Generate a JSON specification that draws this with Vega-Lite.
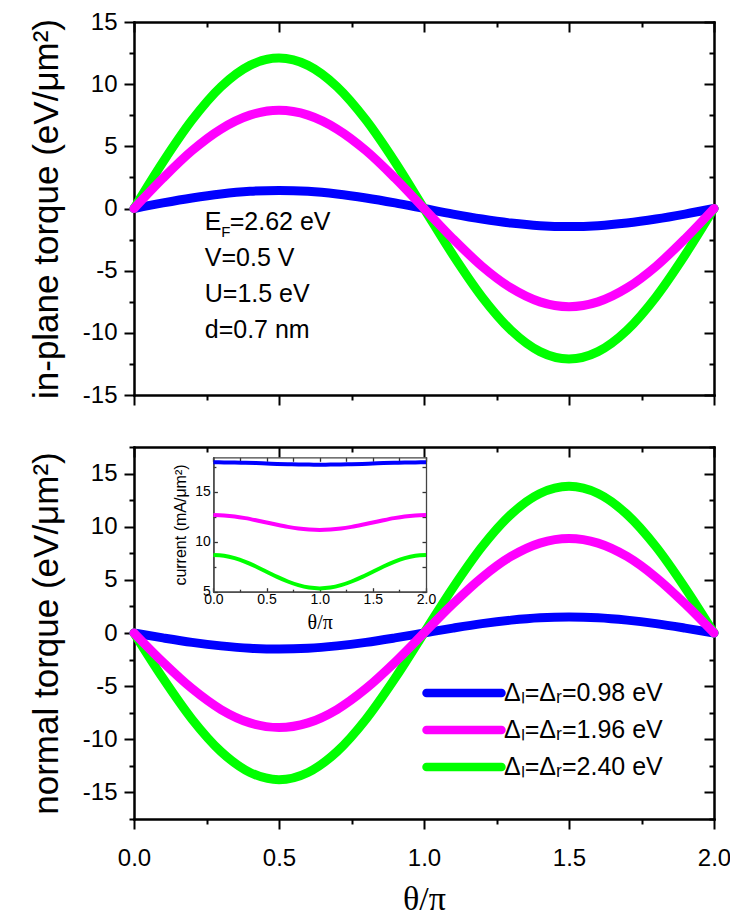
{
"$schema": "https://vega.github.io/schema/vega-lite/v6.json",
"padding": {"left": 29, "top": 10, "right": 5, "bottom": 0},
"spacing": 52,
"bounds": "flush",
"config": {
  "font": "Liberation Sans",
  "view": {"stroke": null},
  "locale": {"number": {"decimal": ".", "thousands": ",", "grouping": [3], "currency": ["$", ""], "minus": "-"}},
  "axis": {"grid": false, "domainColor": "black", "domainWidth": 2, "domainCap": "square", "tickColor": "black", "tickWidth": 2, "labelColor": "black", "labelFontSize": 24, "labelFont": "Liberation Sans", "labelFlush": false, "labelOverlap": false, "labelBound": false, "titleColor": "black", "titleFontWeight": "normal"}
},
"datasets": {
"inplane": [
{"t":0,"v":0,"s":"Δₗ=Δᵣ=0.98 eV"},{"t":0.1,"v":0.45,"s":"Δₗ=Δᵣ=0.98 eV"},{"t":0.2,"v":0.85,"s":"Δₗ=Δᵣ=0.98 eV"},{"t":0.3,"v":1.17,"s":"Δₗ=Δᵣ=0.98 eV"},{"t":0.4,"v":1.38,"s":"Δₗ=Δᵣ=0.98 eV"},{"t":0.5,"v":1.45,"s":"Δₗ=Δᵣ=0.98 eV"},{"t":0.6,"v":1.38,"s":"Δₗ=Δᵣ=0.98 eV"},{"t":0.7,"v":1.17,"s":"Δₗ=Δᵣ=0.98 eV"},{"t":0.8,"v":0.85,"s":"Δₗ=Δᵣ=0.98 eV"},{"t":0.9,"v":0.45,"s":"Δₗ=Δᵣ=0.98 eV"},{"t":1.0,"v":0,"s":"Δₗ=Δᵣ=0.98 eV"},{"t":1.1,"v":-0.45,"s":"Δₗ=Δᵣ=0.98 eV"},{"t":1.2,"v":-0.85,"s":"Δₗ=Δᵣ=0.98 eV"},{"t":1.3,"v":-1.17,"s":"Δₗ=Δᵣ=0.98 eV"},{"t":1.4,"v":-1.38,"s":"Δₗ=Δᵣ=0.98 eV"},{"t":1.5,"v":-1.45,"s":"Δₗ=Δᵣ=0.98 eV"},{"t":1.6,"v":-1.38,"s":"Δₗ=Δᵣ=0.98 eV"},{"t":1.7,"v":-1.17,"s":"Δₗ=Δᵣ=0.98 eV"},{"t":1.8,"v":-0.85,"s":"Δₗ=Δᵣ=0.98 eV"},{"t":1.9,"v":-0.45,"s":"Δₗ=Δᵣ=0.98 eV"},{"t":2.0,"v":0,"s":"Δₗ=Δᵣ=0.98 eV"},
{"t":0,"v":0,"s":"Δₗ=Δᵣ=2.40 eV"},{"t":0.1,"v":3.74,"s":"Δₗ=Δᵣ=2.40 eV"},{"t":0.2,"v":7.11,"s":"Δₗ=Δᵣ=2.40 eV"},{"t":0.3,"v":9.79,"s":"Δₗ=Δᵣ=2.40 eV"},{"t":0.4,"v":11.51,"s":"Δₗ=Δᵣ=2.40 eV"},{"t":0.5,"v":12.1,"s":"Δₗ=Δᵣ=2.40 eV"},{"t":0.6,"v":11.51,"s":"Δₗ=Δᵣ=2.40 eV"},{"t":0.7,"v":9.79,"s":"Δₗ=Δᵣ=2.40 eV"},{"t":0.8,"v":7.11,"s":"Δₗ=Δᵣ=2.40 eV"},{"t":0.9,"v":3.74,"s":"Δₗ=Δᵣ=2.40 eV"},{"t":1.0,"v":0,"s":"Δₗ=Δᵣ=2.40 eV"},{"t":1.1,"v":-3.74,"s":"Δₗ=Δᵣ=2.40 eV"},{"t":1.2,"v":-7.11,"s":"Δₗ=Δᵣ=2.40 eV"},{"t":1.3,"v":-9.79,"s":"Δₗ=Δᵣ=2.40 eV"},{"t":1.4,"v":-11.51,"s":"Δₗ=Δᵣ=2.40 eV"},{"t":1.5,"v":-12.1,"s":"Δₗ=Δᵣ=2.40 eV"},{"t":1.6,"v":-11.51,"s":"Δₗ=Δᵣ=2.40 eV"},{"t":1.7,"v":-9.79,"s":"Δₗ=Δᵣ=2.40 eV"},{"t":1.8,"v":-7.11,"s":"Δₗ=Δᵣ=2.40 eV"},{"t":1.9,"v":-3.74,"s":"Δₗ=Δᵣ=2.40 eV"},{"t":2.0,"v":0,"s":"Δₗ=Δᵣ=2.40 eV"},
{"t":0,"v":0,"s":"Δₗ=Δᵣ=1.96 eV"},{"t":0.1,"v":2.44,"s":"Δₗ=Δᵣ=1.96 eV"},{"t":0.2,"v":4.65,"s":"Δₗ=Δᵣ=1.96 eV"},{"t":0.3,"v":6.39,"s":"Δₗ=Δᵣ=1.96 eV"},{"t":0.4,"v":7.51,"s":"Δₗ=Δᵣ=1.96 eV"},{"t":0.5,"v":7.9,"s":"Δₗ=Δᵣ=1.96 eV"},{"t":0.6,"v":7.51,"s":"Δₗ=Δᵣ=1.96 eV"},{"t":0.7,"v":6.39,"s":"Δₗ=Δᵣ=1.96 eV"},{"t":0.8,"v":4.65,"s":"Δₗ=Δᵣ=1.96 eV"},{"t":0.9,"v":2.44,"s":"Δₗ=Δᵣ=1.96 eV"},{"t":1.0,"v":0,"s":"Δₗ=Δᵣ=1.96 eV"},{"t":1.1,"v":-2.44,"s":"Δₗ=Δᵣ=1.96 eV"},{"t":1.2,"v":-4.65,"s":"Δₗ=Δᵣ=1.96 eV"},{"t":1.3,"v":-6.39,"s":"Δₗ=Δᵣ=1.96 eV"},{"t":1.4,"v":-7.51,"s":"Δₗ=Δᵣ=1.96 eV"},{"t":1.5,"v":-7.9,"s":"Δₗ=Δᵣ=1.96 eV"},{"t":1.6,"v":-7.51,"s":"Δₗ=Δᵣ=1.96 eV"},{"t":1.7,"v":-6.39,"s":"Δₗ=Δᵣ=1.96 eV"},{"t":1.8,"v":-4.65,"s":"Δₗ=Δᵣ=1.96 eV"},{"t":1.9,"v":-2.44,"s":"Δₗ=Δᵣ=1.96 eV"},{"t":2.0,"v":0,"s":"Δₗ=Δᵣ=1.96 eV"}
],
"normal": [
{"t":0,"v":0,"s":"Δₗ=Δᵣ=0.98 eV"},{"t":0.1,"v":-0.46,"s":"Δₗ=Δᵣ=0.98 eV"},{"t":0.2,"v":-0.88,"s":"Δₗ=Δᵣ=0.98 eV"},{"t":0.3,"v":-1.21,"s":"Δₗ=Δᵣ=0.98 eV"},{"t":0.4,"v":-1.43,"s":"Δₗ=Δᵣ=0.98 eV"},{"t":0.5,"v":-1.5,"s":"Δₗ=Δᵣ=0.98 eV"},{"t":0.6,"v":-1.43,"s":"Δₗ=Δᵣ=0.98 eV"},{"t":0.7,"v":-1.21,"s":"Δₗ=Δᵣ=0.98 eV"},{"t":0.8,"v":-0.88,"s":"Δₗ=Δᵣ=0.98 eV"},{"t":0.9,"v":-0.46,"s":"Δₗ=Δᵣ=0.98 eV"},{"t":1.0,"v":0,"s":"Δₗ=Δᵣ=0.98 eV"},{"t":1.1,"v":0.46,"s":"Δₗ=Δᵣ=0.98 eV"},{"t":1.2,"v":0.88,"s":"Δₗ=Δᵣ=0.98 eV"},{"t":1.3,"v":1.21,"s":"Δₗ=Δᵣ=0.98 eV"},{"t":1.4,"v":1.43,"s":"Δₗ=Δᵣ=0.98 eV"},{"t":1.5,"v":1.5,"s":"Δₗ=Δᵣ=0.98 eV"},{"t":1.6,"v":1.43,"s":"Δₗ=Δᵣ=0.98 eV"},{"t":1.7,"v":1.21,"s":"Δₗ=Δᵣ=0.98 eV"},{"t":1.8,"v":0.88,"s":"Δₗ=Δᵣ=0.98 eV"},{"t":1.9,"v":0.46,"s":"Δₗ=Δᵣ=0.98 eV"},{"t":2.0,"v":0,"s":"Δₗ=Δᵣ=0.98 eV"},
{"t":0,"v":0,"s":"Δₗ=Δᵣ=2.40 eV"},{"t":0.1,"v":-4.26,"s":"Δₗ=Δᵣ=2.40 eV"},{"t":0.2,"v":-8.11,"s":"Δₗ=Δᵣ=2.40 eV"},{"t":0.3,"v":-11.16,"s":"Δₗ=Δᵣ=2.40 eV"},{"t":0.4,"v":-13.12,"s":"Δₗ=Δᵣ=2.40 eV"},{"t":0.5,"v":-13.8,"s":"Δₗ=Δᵣ=2.40 eV"},{"t":0.6,"v":-13.12,"s":"Δₗ=Δᵣ=2.40 eV"},{"t":0.7,"v":-11.16,"s":"Δₗ=Δᵣ=2.40 eV"},{"t":0.8,"v":-8.11,"s":"Δₗ=Δᵣ=2.40 eV"},{"t":0.9,"v":-4.26,"s":"Δₗ=Δᵣ=2.40 eV"},{"t":1.0,"v":0,"s":"Δₗ=Δᵣ=2.40 eV"},{"t":1.1,"v":4.26,"s":"Δₗ=Δᵣ=2.40 eV"},{"t":1.2,"v":8.11,"s":"Δₗ=Δᵣ=2.40 eV"},{"t":1.3,"v":11.16,"s":"Δₗ=Δᵣ=2.40 eV"},{"t":1.4,"v":13.12,"s":"Δₗ=Δᵣ=2.40 eV"},{"t":1.5,"v":13.8,"s":"Δₗ=Δᵣ=2.40 eV"},{"t":1.6,"v":13.12,"s":"Δₗ=Δᵣ=2.40 eV"},{"t":1.7,"v":11.16,"s":"Δₗ=Δᵣ=2.40 eV"},{"t":1.8,"v":8.11,"s":"Δₗ=Δᵣ=2.40 eV"},{"t":1.9,"v":4.26,"s":"Δₗ=Δᵣ=2.40 eV"},{"t":2.0,"v":0,"s":"Δₗ=Δᵣ=2.40 eV"},
{"t":0,"v":0,"s":"Δₗ=Δᵣ=1.96 eV"},{"t":0.1,"v":-2.75,"s":"Δₗ=Δᵣ=1.96 eV"},{"t":0.2,"v":-5.23,"s":"Δₗ=Δᵣ=1.96 eV"},{"t":0.3,"v":-7.2,"s":"Δₗ=Δᵣ=1.96 eV"},{"t":0.4,"v":-8.46,"s":"Δₗ=Δᵣ=1.96 eV"},{"t":0.5,"v":-8.9,"s":"Δₗ=Δᵣ=1.96 eV"},{"t":0.6,"v":-8.46,"s":"Δₗ=Δᵣ=1.96 eV"},{"t":0.7,"v":-7.2,"s":"Δₗ=Δᵣ=1.96 eV"},{"t":0.8,"v":-5.23,"s":"Δₗ=Δᵣ=1.96 eV"},{"t":0.9,"v":-2.75,"s":"Δₗ=Δᵣ=1.96 eV"},{"t":1.0,"v":0,"s":"Δₗ=Δᵣ=1.96 eV"},{"t":1.1,"v":2.75,"s":"Δₗ=Δᵣ=1.96 eV"},{"t":1.2,"v":5.23,"s":"Δₗ=Δᵣ=1.96 eV"},{"t":1.3,"v":7.2,"s":"Δₗ=Δᵣ=1.96 eV"},{"t":1.4,"v":8.46,"s":"Δₗ=Δᵣ=1.96 eV"},{"t":1.5,"v":8.9,"s":"Δₗ=Δᵣ=1.96 eV"},{"t":1.6,"v":8.46,"s":"Δₗ=Δᵣ=1.96 eV"},{"t":1.7,"v":7.2,"s":"Δₗ=Δᵣ=1.96 eV"},{"t":1.8,"v":5.23,"s":"Δₗ=Δᵣ=1.96 eV"},{"t":1.9,"v":2.75,"s":"Δₗ=Δᵣ=1.96 eV"},{"t":2.0,"v":0,"s":"Δₗ=Δᵣ=1.96 eV"}
],
"current": [
{"t":0,"v":17.94,"s":"Δₗ=Δᵣ=0.98 eV"},{"t":0.1,"v":17.93,"s":"Δₗ=Δᵣ=0.98 eV"},{"t":0.2,"v":17.92,"s":"Δₗ=Δᵣ=0.98 eV"},{"t":0.3,"v":17.89,"s":"Δₗ=Δᵣ=0.98 eV"},{"t":0.4,"v":17.86,"s":"Δₗ=Δᵣ=0.98 eV"},{"t":0.5,"v":17.82,"s":"Δₗ=Δᵣ=0.98 eV"},{"t":0.6,"v":17.78,"s":"Δₗ=Δᵣ=0.98 eV"},{"t":0.7,"v":17.75,"s":"Δₗ=Δᵣ=0.98 eV"},{"t":0.8,"v":17.72,"s":"Δₗ=Δᵣ=0.98 eV"},{"t":0.9,"v":17.71,"s":"Δₗ=Δᵣ=0.98 eV"},{"t":1.0,"v":17.7,"s":"Δₗ=Δᵣ=0.98 eV"},{"t":1.1,"v":17.71,"s":"Δₗ=Δᵣ=0.98 eV"},{"t":1.2,"v":17.72,"s":"Δₗ=Δᵣ=0.98 eV"},{"t":1.3,"v":17.75,"s":"Δₗ=Δᵣ=0.98 eV"},{"t":1.4,"v":17.78,"s":"Δₗ=Δᵣ=0.98 eV"},{"t":1.5,"v":17.82,"s":"Δₗ=Δᵣ=0.98 eV"},{"t":1.6,"v":17.86,"s":"Δₗ=Δᵣ=0.98 eV"},{"t":1.7,"v":17.89,"s":"Δₗ=Δᵣ=0.98 eV"},{"t":1.8,"v":17.92,"s":"Δₗ=Δᵣ=0.98 eV"},{"t":1.9,"v":17.93,"s":"Δₗ=Δᵣ=0.98 eV"},{"t":2.0,"v":17.94,"s":"Δₗ=Δᵣ=0.98 eV"},
{"t":0,"v":8.67,"s":"Δₗ=Δᵣ=2.40 eV"},{"t":0.1,"v":8.59,"s":"Δₗ=Δᵣ=2.40 eV"},{"t":0.2,"v":8.35,"s":"Δₗ=Δᵣ=2.40 eV"},{"t":0.3,"v":7.98,"s":"Δₗ=Δᵣ=2.40 eV"},{"t":0.4,"v":7.52,"s":"Δₗ=Δᵣ=2.40 eV"},{"t":0.5,"v":7.0,"s":"Δₗ=Δᵣ=2.40 eV"},{"t":0.6,"v":6.48,"s":"Δₗ=Δᵣ=2.40 eV"},{"t":0.7,"v":6.02,"s":"Δₗ=Δᵣ=2.40 eV"},{"t":0.8,"v":5.65,"s":"Δₗ=Δᵣ=2.40 eV"},{"t":0.9,"v":5.41,"s":"Δₗ=Δᵣ=2.40 eV"},{"t":1.0,"v":5.33,"s":"Δₗ=Δᵣ=2.40 eV"},{"t":1.1,"v":5.41,"s":"Δₗ=Δᵣ=2.40 eV"},{"t":1.2,"v":5.65,"s":"Δₗ=Δᵣ=2.40 eV"},{"t":1.3,"v":6.02,"s":"Δₗ=Δᵣ=2.40 eV"},{"t":1.4,"v":6.48,"s":"Δₗ=Δᵣ=2.40 eV"},{"t":1.5,"v":7.0,"s":"Δₗ=Δᵣ=2.40 eV"},{"t":1.6,"v":7.52,"s":"Δₗ=Δᵣ=2.40 eV"},{"t":1.7,"v":7.98,"s":"Δₗ=Δᵣ=2.40 eV"},{"t":1.8,"v":8.35,"s":"Δₗ=Δᵣ=2.40 eV"},{"t":1.9,"v":8.59,"s":"Δₗ=Δᵣ=2.40 eV"},{"t":2.0,"v":8.67,"s":"Δₗ=Δᵣ=2.40 eV"},
{"t":0,"v":12.67,"s":"Δₗ=Δᵣ=1.96 eV"},{"t":0.1,"v":12.63,"s":"Δₗ=Δᵣ=1.96 eV"},{"t":0.2,"v":12.53,"s":"Δₗ=Δᵣ=1.96 eV"},{"t":0.3,"v":12.36,"s":"Δₗ=Δᵣ=1.96 eV"},{"t":0.4,"v":12.15,"s":"Δₗ=Δᵣ=1.96 eV"},{"t":0.5,"v":11.92,"s":"Δₗ=Δᵣ=1.96 eV"},{"t":0.6,"v":11.69,"s":"Δₗ=Δᵣ=1.96 eV"},{"t":0.7,"v":11.48,"s":"Δₗ=Δᵣ=1.96 eV"},{"t":0.8,"v":11.31,"s":"Δₗ=Δᵣ=1.96 eV"},{"t":0.9,"v":11.21,"s":"Δₗ=Δᵣ=1.96 eV"},{"t":1.0,"v":11.17,"s":"Δₗ=Δᵣ=1.96 eV"},{"t":1.1,"v":11.21,"s":"Δₗ=Δᵣ=1.96 eV"},{"t":1.2,"v":11.31,"s":"Δₗ=Δᵣ=1.96 eV"},{"t":1.3,"v":11.48,"s":"Δₗ=Δᵣ=1.96 eV"},{"t":1.4,"v":11.69,"s":"Δₗ=Δᵣ=1.96 eV"},{"t":1.5,"v":11.92,"s":"Δₗ=Δᵣ=1.96 eV"},{"t":1.6,"v":12.15,"s":"Δₗ=Δᵣ=1.96 eV"},{"t":1.7,"v":12.36,"s":"Δₗ=Δᵣ=1.96 eV"},{"t":1.8,"v":12.53,"s":"Δₗ=Δᵣ=1.96 eV"},{"t":1.9,"v":12.63,"s":"Δₗ=Δᵣ=1.96 eV"},{"t":2.0,"v":12.67,"s":"Δₗ=Δᵣ=1.96 eV"}
],
"notes": [
{"label":"V=0.5 V","t":0.244,"v":-4.63},
{"label":"U=1.5 eV","t":0.244,"v":-7.52},
{"label":"d=0.7 nm","t":0.244,"v":-10.42}
],
"one": [{}]
},
"resolve": {"scale": {"color": "independent"}, "legend": {"color": "independent"}},
"vconcat": [
{
  "width": 580, "height": 373,
  "data": {"name": "inplane"},
  "resolve": {"axis": {"x": "independent", "y": "independent"}},
  "layer": [
    {
      "mark": {"type": "line", "strokeWidth": 9, "strokeCap": "round", "interpolate": "monotone"},
      "encoding": {
        "x": {"field": "t", "type": "quantitative", "scale": {"domain": [0, 2], "nice": false, "zero": false},
              "axis": {"orient": "bottom", "values": [0, 0.5, 1, 1.5, 2], "labels": false, "tickSize": 10, "title": null}},
        "y": {"field": "v", "type": "quantitative", "scale": {"domain": [-15, 15], "nice": false},
              "axis": {"orient": "left", "values": [-15, -10, -5, 0, 5, 10, 15], "format": "d", "tickSize": 10, "labelPadding": 7,
                       "title": "in-plane torque (eV/μm²)", "titleFont": "Liberation Sans", "titleFontSize": 35, "titlePadding": 18}},
        "color": {"field": "s", "type": "nominal",
                  "scale": {"domain": ["Δₗ=Δᵣ=0.98 eV", "Δₗ=Δᵣ=1.96 eV", "Δₗ=Δᵣ=2.40 eV"], "range": ["#0000ff", "#ff00ff", "#00ff00"]},
                  "legend": null}
      }
    },
    {
      "mark": {"type": "point", "opacity": 0},
      "encoding": {
        "x": {"field": "t", "type": "quantitative", "axis": {"orient": "bottom", "values": [0.25, 0.75, 1.25, 1.75], "labels": false, "tickSize": 5, "title": null}},
        "y": {"field": "v", "type": "quantitative", "axis": {"orient": "left", "values": [-12.5, -7.5, -2.5, 2.5, 7.5, 12.5], "labels": false, "tickSize": 5, "title": null}}
      }
    },
    {
      "mark": {"type": "point", "opacity": 0},
      "encoding": {
        "x": {"field": "t", "type": "quantitative", "axis": {"orient": "top", "values": [0, 0.5, 1, 1.5, 2], "labels": false, "tickSize": -10, "title": null}},
        "y": {"field": "v", "type": "quantitative", "axis": {"orient": "right", "values": [-15, -10, -5, 0, 5, 10, 15], "labels": false, "tickSize": -10, "title": null}}
      }
    },
    {
      "mark": {"type": "point", "opacity": 0},
      "encoding": {
        "x": {"field": "t", "type": "quantitative", "axis": {"orient": "top", "values": [0.25, 0.75, 1.25, 1.75], "labels": false, "tickSize": -5, "title": null}},
        "y": {"field": "v", "type": "quantitative", "axis": {"orient": "right", "values": [-12.5, -7.5, -2.5, 2.5, 7.5, 12.5], "labels": false, "tickSize": -5, "title": null}}
      }
    },
    {
      "data": {"name": "one"},
      "mark": {"type": "text", "text": "E", "fontSize": 25, "align": "left", "baseline": "alphabetic", "color": "black"},
      "encoding": {"x": {"datum": 0.244, "type": "quantitative", "axis": null}, "y": {"datum": -1.73, "type": "quantitative", "axis": null}}
    },
    {
      "data": {"name": "one"},
      "mark": {"type": "text", "text": "F", "fontSize": 15, "align": "left", "baseline": "alphabetic", "dx": 16.5, "dy": 7, "color": "black"},
      "encoding": {"x": {"datum": 0.244, "type": "quantitative", "axis": null}, "y": {"datum": -1.73, "type": "quantitative", "axis": null}}
    },
    {
      "data": {"name": "one"},
      "mark": {"type": "text", "text": "=2.62 eV", "fontSize": 25, "align": "left", "baseline": "alphabetic", "dx": 25, "color": "black"},
      "encoding": {"x": {"datum": 0.244, "type": "quantitative", "axis": null}, "y": {"datum": -1.73, "type": "quantitative", "axis": null}}
    },
    {
      "data": {"name": "notes"},
      "mark": {"type": "text", "fontSize": 25, "align": "left", "baseline": "alphabetic", "color": "black"},
      "encoding": {"x": {"field": "t", "type": "quantitative", "axis": null}, "y": {"field": "v", "type": "quantitative", "axis": null}, "text": {"field": "label"}}
    }
  ]
},
{
  "width": 580, "height": 372,
  "data": {"name": "normal"},
  "resolve": {"scale": {"x": "independent", "y": "independent"}, "axis": {"x": "independent", "y": "independent"}},
  "layer": [
    {
      "mark": {"type": "line", "strokeWidth": 9, "strokeCap": "round", "interpolate": "monotone"},
      "encoding": {
        "x": {"field": "t", "type": "quantitative", "scale": {"domain": [0, 2], "nice": false, "zero": false},
              "axis": {"orient": "bottom", "values": [0, 0.5, 1, 1.5, 2], "format": ".1f", "tickSize": 10, "labelPadding": 17,
                       "title": "θ/π", "titleFont": "Liberation Serif", "titleFontSize": 34, "titlePadding": 12}},
        "y": {"field": "v", "type": "quantitative", "scale": {"domain": [-17.5, 17.5], "nice": false},
              "axis": {"orient": "left", "values": [-15, -10, -5, 0, 5, 10, 15], "format": "d", "tickSize": 10, "labelPadding": 7,
                       "title": "normal torque (eV/μm²)", "titleFont": "Liberation Sans", "titleFontSize": 35, "titlePadding": 18}},
        "color": {"field": "s", "type": "nominal",
                  "scale": {"domain": ["Δₗ=Δᵣ=0.98 eV", "Δₗ=Δᵣ=1.96 eV", "Δₗ=Δᵣ=2.40 eV"], "range": ["#0000ff", "#ff00ff", "#00ff00"]},
                  "legend": {"orient": "none", "legendX": 288, "legendY": 229, "title": null, "padding": 0,
                             "symbolType": "M-1,0H5", "symbolSize": 625, "symbolStrokeWidth": 8.5, "symbolOpacity": 1,
                             "labelFontSize": 25, "labelFont": "Liberation Sans", "labelColor": "black", "labelOffset": 48, "labelLimit": 500, "rowPadding": 3,
                             "encode": {"symbols": {"update": {"strokeCap": {"value": "round"}}}}}}
      }
    },
    {
      "mark": {"type": "point", "opacity": 0},
      "encoding": {
        "x": {"field": "t", "type": "quantitative", "scale": {"domain": [0, 2], "nice": false, "zero": false}, "axis": {"orient": "bottom", "values": [0.25, 0.75, 1.25, 1.75], "labels": false, "tickSize": 5, "title": null}},
        "y": {"field": "v", "type": "quantitative", "scale": {"domain": [-17.5, 17.5], "nice": false}, "axis": {"orient": "left", "values": [-17.5, -12.5, -7.5, -2.5, 2.5, 7.5, 12.5, 17.5], "labels": false, "tickSize": 5, "title": null}}
      }
    },
    {
      "mark": {"type": "point", "opacity": 0},
      "encoding": {
        "x": {"field": "t", "type": "quantitative", "scale": {"domain": [0, 2], "nice": false, "zero": false}, "axis": {"orient": "top", "values": [0, 0.5, 1, 1.5, 2], "labels": false, "tickSize": -10, "title": null}},
        "y": {"field": "v", "type": "quantitative", "scale": {"domain": [-17.5, 17.5], "nice": false}, "axis": {"orient": "right", "values": [-15, -10, -5, 0, 5, 10, 15], "labels": false, "tickSize": -10, "title": null}}
      }
    },
    {
      "mark": {"type": "point", "opacity": 0},
      "encoding": {
        "x": {"field": "t", "type": "quantitative", "scale": {"domain": [0, 2], "nice": false, "zero": false}, "axis": {"orient": "top", "values": [0.25, 0.75, 1.25, 1.75], "labels": false, "tickSize": -5, "title": null}},
        "y": {"field": "v", "type": "quantitative", "scale": {"domain": [-17.5, 17.5], "nice": false}, "axis": {"orient": "right", "values": [-17.5, -12.5, -7.5, -2.5, 2.5, 7.5, 12.5, 17.5], "labels": false, "tickSize": -5, "title": null}}
      }
    },
    {
      "data": {"name": "current"},
      "mark": {"type": "line", "strokeWidth": 4, "interpolate": "monotone"},
      "encoding": {
        "x": {"field": "t", "type": "quantitative", "scale": {"domain": [0, 2], "nice": false, "zero": false, "range": [79.4, 292]},
              "axis": {"orient": "bottom", "offset": -227.3, "values": [0, 0.5, 1, 1.5, 2], "format": ".1f", "tickSize": -4, "labelPadding": 5, "labelFontSize": 14,
                       "domainColor": "#444", "domainWidth": 1.3, "tickWidth": 1.3, "tickColor": "#333",
                       "title": "θ/π", "titleFont": "Liberation Serif", "titleFontSize": 20, "titlePadding": 6}},
        "y": {"field": "v", "type": "quantitative", "scale": {"domain": [5, 18.44], "nice": false, "zero": false, "range": [144.7, 10.3]},
              "axis": {"orient": "left", "offset": -79.4, "values": [5, 10, 15], "format": "d", "tickSize": -4, "labelPadding": 7, "labelFontSize": 14,
                       "domainColor": "#444", "domainWidth": 1.3, "tickWidth": 1.3, "tickColor": "#333",
                       "title": "current (mA/μm²)", "titleFont": "Liberation Sans", "titleFontSize": 16, "titlePadding": 6}},
        "color": {"field": "s", "type": "nominal",
                  "scale": {"domain": ["Δₗ=Δᵣ=0.98 eV", "Δₗ=Δᵣ=1.96 eV", "Δₗ=Δᵣ=2.40 eV"], "range": ["#0000ff", "#ff00ff", "#00ff00"]}}
      }
    },
    {
      "data": {"name": "current"},
      "mark": {"type": "point", "opacity": 0},
      "encoding": {
        "x": {"field": "t", "type": "quantitative", "scale": {"domain": [0, 2], "nice": false, "zero": false, "range": [79.4, 292]},
              "axis": {"orient": "bottom", "offset": -227.3, "values": [0.25, 0.75, 1.25, 1.75], "labels": false, "tickSize": -2.5, "domainColor": "#444", "domainWidth": 1.3, "tickWidth": 1.3, "tickColor": "#333", "title": null}},
        "y": {"field": "v", "type": "quantitative", "scale": {"domain": [5, 18.44], "nice": false, "zero": false, "range": [144.7, 10.3]},
              "axis": {"orient": "left", "offset": -79.4, "values": [7.5, 12.5, 17.5], "labels": false, "tickSize": -2.5, "domainColor": "#444", "domainWidth": 1.3, "tickWidth": 1.3, "tickColor": "#333", "title": null}}
      }
    },
    {
      "data": {"name": "current"},
      "mark": {"type": "point", "opacity": 0},
      "encoding": {
        "x": {"field": "t", "type": "quantitative", "scale": {"domain": [0, 2], "nice": false, "zero": false, "range": [79.4, 292]},
              "axis": {"orient": "top", "offset": -10.3, "values": [0, 0.25, 0.5, 0.75, 1, 1.25, 1.5, 1.75, 2], "labels": false, "tickSize": -4, "domainColor": "#444", "domainWidth": 1.3, "tickWidth": 1.3, "tickColor": "#333", "title": null}},
        "y": {"field": "v", "type": "quantitative", "scale": {"domain": [5, 18.44], "nice": false, "zero": false, "range": [144.7, 10.3]},
              "axis": {"orient": "right", "offset": -288, "values": [5, 7.5, 10, 12.5, 15, 17.5], "labels": false, "tickSize": -4, "domainColor": "#444", "domainWidth": 1.3, "tickWidth": 1.3, "tickColor": "#333", "title": null}}
      }
    }
  ]
}
]
}
